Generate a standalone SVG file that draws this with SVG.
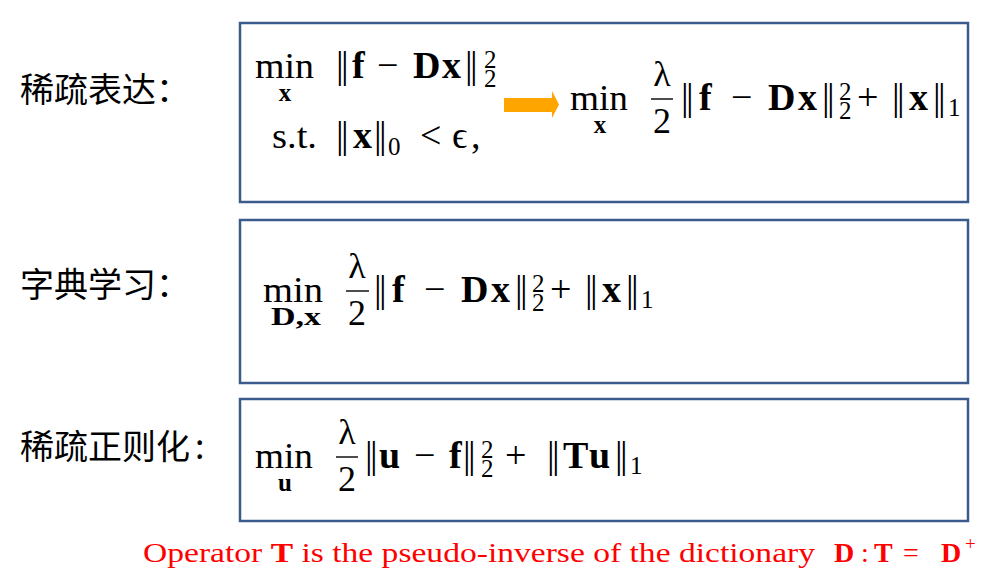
<svg xmlns="http://www.w3.org/2000/svg" width="997" height="583" viewBox="0 0 997 583">
<style>
.box{fill:#fff;stroke:#3b5b8c;stroke-width:2.5}
.rm{font-family:"Liberation Serif","Times New Roman",serif;font-size:38px;fill:#000}
.mn{font-family:"Liberation Serif","Times New Roman",serif;font-size:36px;fill:#000}
.sc{font-family:"Liberation Serif","Times New Roman",serif;font-size:25px;fill:#000}
.bf{font-weight:bold}
.mid{text-anchor:middle}
.nb{letter-spacing:-2.5px}
.bar{stroke:#000;stroke-width:1.4}
.cn{font-family:"Noto Sans CJK SC","Noto Sans",sans-serif;font-size:34px;fill:#000}
.red{font-family:"Liberation Serif","Times New Roman",serif;font-size:28px;fill:#ff0000}
</style>
<rect width="997" height="583" fill="#fff"/>

<g id="label-sparse-rep"><text class="cn" x="20" y="102">稀疏表达：</text></g>
<g id="label-dict"><text class="cn" x="20" y="297">字典学习：</text></g>
<g id="label-sparse-reg"><text class="cn" x="20" y="459">稀疏正则化</text><text class="cn" x="195" y="459">:</text></g>

<g id="box-sparse-rep">
<rect class="box" x="240" y="23" width="728" height="179"/>
<text class="mn" x="255" y="78" textLength="59" lengthAdjust="spacingAndGlyphs">min</text>
<text class="sc bf mid" x="285" y="101">x</text>
<text class="rm" y="78"><tspan x="336" class="nb">||</tspan><tspan x="352" class="bf">f</tspan><tspan x="377">−</tspan><tspan x="413" class="bf">D</tspan><tspan x="442" class="bf">x</tspan><tspan x="465" class="nb">||</tspan></text>
<text class="sc" x="484" y="68">2</text><text class="sc" x="484" y="87">2</text>
<text class="mn" x="272" y="148" textLength="45" lengthAdjust="spacingAndGlyphs">s.t.</text>
<text class="rm" y="148"><tspan x="336" class="nb">||</tspan><tspan x="353" class="bf">x</tspan><tspan x="374" class="nb">||</tspan></text>
<text class="sc" x="388" y="155">0</text>
<text class="rm" y="148"><tspan x="420">&lt;</tspan><tspan x="452">ϵ</tspan><tspan x="471">,</tspan></text>

<text class="mn" x="570" y="110" textLength="58" lengthAdjust="spacingAndGlyphs">min</text>
<text class="sc bf mid" x="600" y="133">x</text>
<text class="mn mid" x="662" y="86">λ</text>
<line class="bar" x1="651" y1="99" x2="673" y2="99"/>
<text class="mn mid" x="662" y="133">2</text>
<text class="rm" y="110"><tspan x="681" class="nb">||</tspan><tspan x="699" class="bf">f</tspan><tspan x="731">−</tspan><tspan x="768" class="bf">D</tspan><tspan x="798" class="bf">x</tspan><tspan x="822" class="nb">||</tspan><tspan x="857">+</tspan><tspan x="892" class="nb">||</tspan><tspan x="909" class="bf">x</tspan><tspan x="933" class="nb">||</tspan></text>
<text class="sc" x="839" y="100">2</text><text class="sc" x="839" y="119">2</text>
<text class="sc" x="948" y="116">1</text>
</g>

<g id="box-dict">
<rect class="box" x="240" y="220" width="728" height="163"/>
<text class="mn" x="263" y="302" textLength="60" lengthAdjust="spacingAndGlyphs">min</text>
<text class="sc bf mid" x="296" y="325" textLength="50" lengthAdjust="spacingAndGlyphs">D,x</text>
<text class="mn mid" x="357" y="278">λ</text>
<line class="bar" x1="346" y1="291" x2="369" y2="291"/>
<text class="mn mid" x="357" y="325">2</text>
<text class="rm" y="302"><tspan x="374" class="nb">||</tspan><tspan x="392" class="bf">f</tspan><tspan x="424">−</tspan><tspan x="461" class="bf">D</tspan><tspan x="491" class="bf">x</tspan><tspan x="515" class="nb">||</tspan><tspan x="550">+</tspan><tspan x="585" class="nb">||</tspan><tspan x="602" class="bf">x</tspan><tspan x="626" class="nb">||</tspan></text>
<text class="sc" x="532" y="292">2</text><text class="sc" x="532" y="311">2</text>
<text class="sc" x="641" y="308">1</text>
</g>

<g id="box-sparse-reg">
<rect class="box" x="240" y="399" width="728" height="122"/>
<text class="mn" x="255" y="468" textLength="58" lengthAdjust="spacingAndGlyphs">min</text>
<text class="sc bf mid" x="285" y="491">u</text>
<text class="mn mid" x="347" y="444">λ</text>
<line class="bar" x1="336" y1="457" x2="358" y2="457"/>
<text class="mn mid" x="347" y="491">2</text>
<text class="rm" y="468"><tspan x="365" class="nb">||</tspan><tspan x="379" class="bf">u</tspan><tspan x="414">−</tspan><tspan x="449" class="bf">f</tspan><tspan x="463" class="nb">||</tspan><tspan x="505">+</tspan><tspan x="547" class="nb">||</tspan><tspan x="563" class="bf">T</tspan><tspan x="589" class="bf">u</tspan><tspan x="615" class="nb">||</tspan></text>
<text class="sc" x="481" y="458">2</text><text class="sc" x="481" y="477">2</text>
<text class="sc" x="630" y="474">1</text>
</g>

<g id="connectors">
<polygon points="504,98 552,98 552,91 559,104.5 552,118 552,112 504,112" fill="#ffa500"/>
</g>

<g id="note">
<text class="red" x="143" y="562" textLength="672" lengthAdjust="spacingAndGlyphs">Operator <tspan class="bf">T</tspan> is the pseudo-inverse of the dictionary</text>
<text class="red" y="562"><tspan x="834" class="bf">D</tspan><tspan x="861">:</tspan><tspan x="874" class="bf">T</tspan><tspan x="903">=</tspan><tspan x="941" class="bf">D</tspan></text>
<text class="red" x="965" y="550" style="font-size:19px">+</text>
</g>
</svg>
